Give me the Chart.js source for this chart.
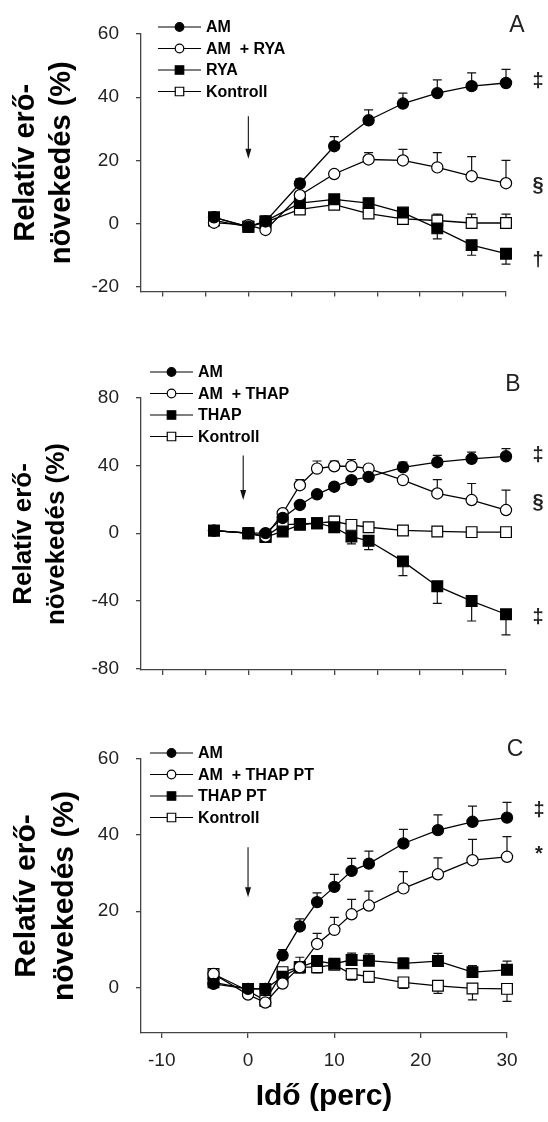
<!DOCTYPE html>
<html>
<head>
<meta charset="utf-8">
<script src="https://cdn.jsdelivr.net/npm/chart.js@4/dist/chart.umd.min.js"></script>
<style>
    html, body { margin: 0; padding: 0; background: #fff; }
    #wrap { position: relative; width: 548px; height: 1122px; }
    canvas { position: absolute; left: 0; }
    #chartA { top: 0; }
    #chartB { top: 320px; }
    #chartC { top: 720px; }
</style>
</head>
<body>
<div id="wrap">
    <canvas id="chartA" width="548" height="320"></canvas>
    <canvas id="chartB" width="548" height="400"></canvas>
    <canvas id="chartC" width="548" height="402"></canvas>
</div>
<script>
// =============== DADOS ===============
const timeA = [-4, 0, 2, 6, 10, 14, 18, 22, 26, 30];
const timeBC = [-4, 0, 2, 4, 6, 8, 10, 12, 14, 18, 22, 26, 30];

// Painel A
const amA = [2, -1, 0.7, 12.7, 24.5, 32.7, 38, 41.3, 43.5, 44.5];
const amAErr = [0, 0, 0, 1.5, 3, 3.3, 3.3, 4.2, 4.2, 4.3];
const amRyaA = [0.3, -0.5, -2, 9, 15.7, 20.3, 20, 17.8, 15, 12.8];
const amRyaAErr = [0, 0, 0, 1, 1, 2.2, 3.5, 4.7, 6.2, 7.2];
const ryaA = [2, -1, 0.8, 6.5, 7.7, 6.5, 3.5, -1.5, -6.8, -9.5];
const ryaAErr = [0, 0, 0, 0, 0, 0, 0, -3.3, -3.2, -3.3];
const kontrollA = [1, -1, 0.5, 4.5, 6, 3.2, 1.5, 1, 0.2, 0.2];
const kontrollAErr = [0, 0, 0, 0, 0, 0, 0, 2, 2.8, 2.8];

// Painel B
const amB = [1.5, 0, 0, 9, 16.7, 23, 27.5, 31.4, 33.3, 39, 42, 44, 45.5];
const amBErr = [0, 0, 0, 0, 0, 0, 0, 0, 0, 3, 4, 4, 4.5];
const amThapB = [1.5, 0, -2, 11.8, 28.4, 38.2, 39.6, 39.6, 38.2, 31.4, 23.5, 19.6, 13.7];
const amThapBErr = [0, 0, 0, 2, 3.3, 4.5, 3, 4, 2, 0, 8.2, 9.8, 11.8];
const thapB = [1.5, 0, -2.3, 1, 4.9, 5.9, 3.5, -2, -4.5, -16.7, -31.4, -40.2, -48];
const thapBErr = [0, 0, 0, 0, 0, 0, -2.5, -4.3, -5.3, -8.4, -10.2, -11.8, -12.2];
const kontrollB = [1.5, 0, -2, 4.9, 5.5, 5.9, 6.9, 4.9, 3.5, 1.6, 1, 0.6, 0.6];
const kontrollBErr = [0, 0, 0, 0, 0, 0, 3, 0, 0, 0, 0, 0, 0];

// Painel C
const amC = [0.9, -0.4, -0.4, 8.4, 16, 22.4, 26.4, 30.6, 32.5, 37.8, 41.3, 43.5, 44.6];
const amCErr = [0, 0, 0, 1.5, 2, 2.4, 3.3, 3.3, 3.3, 3.7, 4, 4.1, 4];
const amThapPtC = [3.5, -1.9, -4, 1, 5.3, 11.4, 15.1, 19.2, 21.5, 26, 29.7, 33.4, 34.3];
const amThapPtCErr = [0, 0, 0, 0, 2.6, 2.8, 3.3, 3.9, 3.8, 4.4, 4.3, 5.5, 5.3];
const thapPtC = [1.3, -0.4, -0.4, 2.8, 5.3, 6.9, 6.2, 7.2, 7, 6.3, 6.9, 4, 4.6];
const thapPtCErr = [0, 0, 0, 0, 0, 0, 0, 1.8, 1.8, 1.4, 2, 1.7, 2.3];
const kontrollC = [3.5, -0.9, -3.5, 4, 5.3, 5.3, 5.9, 3.5, 2.8, 1.3, 0.4, -0.3, -0.4];
const kontrollCErr = [0, 0, 0, 0, -1.5, -1.5, 0, -1.6, -1.5, -1.6, -2, -3, -3.3];

// Ticks
const xTicksAB = [-10, -5, 0, 5, 10, 15, 20, 25, 30];
const xTicksC = [-10, 0, 10, 20, 30];
const yTicksA = [-20, 0, 20, 40, 60];
const yTicksB = [-80, -40, 0, 40, 80];
const yTicksC = [0, 20, 40, 60];

const FONT = "'Liberation Sans', Arial, Helvetica, sans-serif";
const AXIS = "#444";

// =============== PLUGINS ===============
const errorBarPlugin = {
    id: "errorBars",
    beforeDatasetsDraw(chart) {
        const ctx = chart.ctx;
        const yScale = chart.scales.y;
        ctx.save();
        ctx.strokeStyle = "#111";
        ctx.lineWidth = 1.2;
        chart.data.datasets.forEach((ds, i) => {
            if (!ds.errors) return;
            const meta = chart.getDatasetMeta(i);
            meta.data.forEach((pt, j) => {
                const e = ds.errors[j];
                if (!e) return;
                const yEnd = yScale.getPixelForValue(ds.data[j].y + e);
                ctx.beginPath();
                ctx.moveTo(pt.x, pt.y);
                ctx.lineTo(pt.x, yEnd);
                ctx.moveTo(pt.x - 4.5, yEnd);
                ctx.lineTo(pt.x + 4.5, yEnd);
                ctx.stroke();
            });
        });
        ctx.restore();
    },
};

const decorPlugin = {
    id: "decor",
    afterDraw(chart, args, opts) {
        const ctx = chart.ctx;
        const { x: xs, y: ys } = chart.scales;
        const area = chart.chartArea;
        ctx.save();

        // Legenda com linha + marcador
        chart.data.datasets.forEach((ds, i) => {
            const y = opts.legendY + i * 21.5;
            ctx.strokeStyle = "#000";
            ctx.lineWidth = 1.2;
            ctx.beginPath();
            ctx.moveTo(opts.legendX, y);
            ctx.lineTo(opts.legendX + 43, y);
            ctx.stroke();
            ctx.fillStyle = ds.pointBackgroundColor;
            Chart.helpers.drawPoint(ctx, {
                pointStyle: ds.pointStyle,
                radius: ds.pointStyle === "rect" ? 6 : 4.3,
                rotation: 0,
                borderWidth: 1.1,
            }, opts.legendX + 21.5, y);
            ctx.fillStyle = "#000";
            ctx.font = "bold 16px " + FONT;
            ctx.textAlign = "left";
            ctx.textBaseline = "middle";
            ctx.fillText(ds.label, opts.legendX + 48, y + 1);
        });

        // Letra do painel
        ctx.fillStyle = "#222";
        ctx.font = "23px " + FONT;
        ctx.textAlign = "center";
        ctx.fillText(opts.letter, opts.letterX, opts.letterY);

        // Marcas de significância
        ctx.font = "bold 20px " + FONT;
        opts.marks.forEach(m => {
            ctx.fillText(m.text, area.right + 32, ys.getPixelForValue(m.value));
        });

        // Seta (momento da aplicação)
        const ax = xs.getPixelForValue(opts.arrow.x);
        const a0 = ys.getPixelForValue(opts.arrow.from);
        const a1 = ys.getPixelForValue(opts.arrow.to);
        ctx.strokeStyle = "#111";
        ctx.lineWidth = 1.1;
        ctx.beginPath();
        ctx.moveTo(ax, a0);
        ctx.lineTo(ax, a1 - 8);
        ctx.stroke();
        ctx.fillStyle = "#111";
        ctx.beginPath();
        ctx.moveTo(ax - 3, a1 - 10);
        ctx.lineTo(ax + 3, a1 - 10);
        ctx.lineTo(ax, a1);
        ctx.closePath();
        ctx.fill();

        ctx.restore();
    },
};

// =============== HELPERS ===============
function series(label, times, values, errors, style, fill) {
    return {
        label: label,
        data: times.map((t, i) => ({ x: t, y: values[i] })),
        errors: errors,
        showLine: true,
        borderColor: "#000",
        borderWidth: 1.3,
        pointStyle: style,
        pointRadius: style === "rect" ? 7.6 : 5.6,
        pointBackgroundColor: fill,
        pointBorderColor: "#000",
        pointBorderWidth: 1.2,
        clip: false,
    };
}

function makeChart(id, cfg) {
    const el = document.getElementById(id);
    return new Chart(el.getContext("2d"), {
        type: "scatter",
        data: { datasets: cfg.datasets },
        plugins: [errorBarPlugin, decorPlugin],
        options: {
            responsive: false,
            animation: false,
            layout: { padding: cfg.padding },
            plugins: {
                legend: { display: false },
                tooltip: { enabled: false },
                decor: cfg.decor,
            },
            scales: {
                x: {
                    type: "linear",
                    min: cfg.xMin,
                    max: 30,
                    afterBuildTicks: s => { s.ticks = cfg.xTicks.map(v => ({ value: v })); },
                    afterFit: s => { s.height = cfg.xHeight; },
                    border: { color: AXIS, width: 1.3 },
                    grid: { drawOnChartArea: false, tickLength: 5, color: AXIS, lineWidth: 1.3 },
                    ticks: {
                        display: cfg.xLabels,
                        padding: 11,
                        color: "#222",
                        font: { family: FONT, size: 19 },
                    },
                    title: {
                        display: cfg.xLabels,
                        text: "Idő (perc)",
                        color: "#000",
                        font: { family: FONT, size: 30, weight: "bold", lineHeight: 1.2 },
                        padding: { top: 0, bottom: 7 },
                    },
                },
                y: {
                    min: cfg.yMin,
                    max: cfg.yMax,
                    afterBuildTicks: s => { s.ticks = cfg.yTicks.map(v => ({ value: v })); },
                    afterFit: s => { s.width = 141; },
                    border: { color: AXIS, width: 1.3 },
                    grid: { drawOnChartArea: false, tickLength: 5, color: AXIS, lineWidth: 1.3 },
                    ticks: {
                        padding: 17,
                        color: "#222",
                        font: { family: FONT, size: 19 },
                    },
                    title: {
                        display: true,
                        text: ["Relatív erő-", "növekedés (%)"],
                        color: "#000",
                        font: { family: FONT, size: cfg.titleSize, weight: "bold", lineHeight: 1.25 },
                        padding: { top: 8, bottom: 0 },
                    },
                },
            },
        },
    });
}

// =============== GRÁFICOS ===============
document.addEventListener("DOMContentLoaded", function () {
    if (typeof Chart === "undefined") {
        console.error("Chart.js não está carregado");
        return;
    }

    makeChart("chartA", {
        datasets: [
            series("AM", timeA, amA, amAErr, "circle", "#000"),
            series("AM  + RYA", timeA, amRyaA, amRyaAErr, "circle", "#fff"),
            series("RYA", timeA, ryaA, ryaAErr, "rect", "#000"),
            series("Kontroll", timeA, kontrollA, kontrollAErr, "rect", "#fff"),
        ],
        padding: { top: 34, right: 42, bottom: 0, left: 0 },
        xMin: -12.5, xTicks: xTicksAB, xHeight: 15, xLabels: false,
        yMin: -21.5, yMax: 60, yTicks: yTicksA, titleSize: 29,
        decor: {
            legendX: 158, legendY: 27,
            letter: "A", letterX: 517, letterY: 26,
            marks: [
                { text: "‡", value: 45 },
                { text: "§", value: 12 },
                { text: "†", value: -11.5 },
            ],
            arrow: { x: 0, from: 34, to: 20.5 },
        },
    });

    makeChart("chartB", {
        datasets: [
            series("AM", timeBC, amB, amBErr, "circle", "#000"),
            series("AM  + THAP", timeBC, amThapB, amThapBErr, "circle", "#fff"),
            series("THAP", timeBC, thapB, thapBErr, "rect", "#000"),
            series("Kontroll", timeBC, kontrollB, kontrollBErr, "rect", "#fff"),
        ],
        padding: { top: 78, right: 42, bottom: 35, left: 0 },
        xMin: -12.5, xTicks: xTicksAB, xHeight: 15, xLabels: false,
        yMin: -81, yMax: 80, yTicks: yTicksB, titleSize: 26,
        decor: {
            legendX: 150, legendY: 52,
            letter: "B", letterX: 513, letterY: 65,
            marks: [
                { text: "‡", value: 46 },
                { text: "§", value: 18 },
                { text: "‡", value: -50 },
            ],
            arrow: { x: -0.6, from: 46, to: 19.6 },
        },
    });

    makeChart("chartC", {
        datasets: [
            series("AM", timeBC, amC, amCErr, "circle", "#000"),
            series("AM  + THAP PT", timeBC, amThapPtC, amThapPtCErr, "circle", "#fff"),
            series("THAP PT", timeBC, thapPtC, thapPtCErr, "rect", "#000"),
            series("Kontroll", timeBC, kontrollC, kontrollCErr, "rect", "#fff"),
        ],
        padding: { top: 39, right: 41, bottom: 0, left: 0 },
        xMin: -12.4, xTicks: xTicksC, xHeight: 89, xLabels: true,
        yMin: -12, yMax: 60, yTicks: yTicksC, titleSize: 30,
        decor: {
            legendX: 150, legendY: 33,
            letter: "C", letterX: 515, letterY: 30,
            marks: [
                { text: "‡", value: 46.6 },
                { text: "*", value: 35 },
            ],
            arrow: { x: 0, from: 36.8, to: 23.7 },
        },
    });
});
</script>
</body>
</html>
